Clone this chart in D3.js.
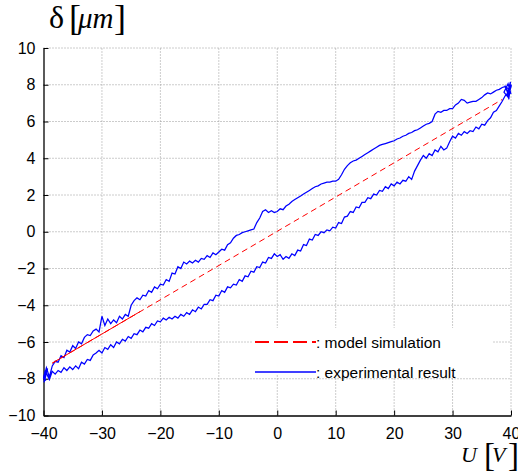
<!DOCTYPE html>
<meta charset="utf-8">
<style>
  body { margin: 0; background: #fff; }
  .tick text { font-family: "Liberation Sans", Arial, sans-serif; font-size: 16px; fill: #000; }
  .serif { font-family: "Liberation Serif", "Times New Roman", serif; }
</style>

<!-- Load d3.js -->
<script src="https://d3js.org/d3.v7.min.js"></script>

<div id="my_dataviz"></div>
<script>

// ticks of both axes
var xTicks = [-40, -30, -20, -10, 0, 10, 20, 30, 40];
var yTicks = [-10, -8, -6, -4, -2, 0, 2, 4, 6, 8, 10];

// experimental result: voltage samples every 0.5 V from -40 to 40
var expU = d3.range(-40, 40.25, 0.5);

// lower branch (voltage going up)
var lowerD = [
  -8.0, -7.7, -8.05, -7.6, -7.75, -7.55, -7.65, -7.4, -7.55, -7.35,
  -7.5, -7.3, -7.45, -7.1, -7.2, -6.95, -7.0, -6.7, -6.6, -6.45,
  -6.6, -6.3, -6.4, -6.15, -6.3, -6.0, -6.1, -5.85, -5.95, -5.7,
  -5.8, -5.55, -5.6, -5.35, -5.45, -5.2, -5.25, -5.0, -5.1, -4.85,
  -4.9, -4.7, -4.8, -4.65, -4.75, -4.6, -4.7, -4.5, -4.6, -4.4,
  -4.5, -4.25, -4.35, -4.1, -4.2, -3.95, -3.95, -3.7, -3.75, -3.45,
  -3.5, -3.2, -3.3, -3.0, -3.05, -2.85, -2.9, -2.6, -2.7, -2.4,
  -2.45, -2.15, -2.2, -1.9, -1.95, -1.65, -1.7, -1.4, -1.45, -1.2,
  -1.35, -1.25, -1.5, -1.35, -1.45, -1.2, -1.3, -1.0, -1.05, -0.7,
  -0.75, -0.4, -0.45, -0.15, -0.2, 0.0, -0.05, 0.1, 0.05, 0.25,
  0.2, 0.5, 0.45, 0.8, 0.85, 1.1, 1.05, 1.35, 1.3, 1.6,
  1.6, 1.85, 1.8, 2.05, 2.0, 2.25, 2.2, 2.45, 2.35, 2.6,
  2.5, 2.7, 2.6, 2.8, 2.75, 3.0, 2.85, 3.3, 3.6, 3.9,
  4.15, 4.0, 4.25, 4.15, 4.45, 4.35, 4.65, 4.45, 4.55, 4.9,
  5.2, 5.1, 5.35, 5.25, 5.45, 5.35, 5.5, 5.45, 5.7, 5.6,
  5.85, 5.8, 6.05, 6.2, 6.5, 6.6, 6.85, 7.1, 7.4, 7.55,
  7.9
];

// upper branch (voltage going down), listed from -40 to 40
var upperD = [
  -8.0, -7.4, -7.9, -7.3, -7.05, -7.1, -6.75, -6.85, -6.45, -6.55,
  -6.2, -6.35, -6.0, -6.1, -5.75, -5.6, -5.65, -5.4, -5.3, -5.45,
  -4.6, -5.1, -4.75, -5.0, -4.8, -4.95, -4.6, -4.75, -4.5, -4.6,
  -4.0, -3.75, -3.6, -3.7, -3.45, -3.5, -3.2, -3.3, -3.0, -3.1,
  -2.85, -2.9, -2.6, -2.7, -2.25, -2.3, -1.9, -2.0, -1.65, -1.75,
  -1.6, -1.7, -1.55, -1.65, -1.45, -1.5, -1.3, -1.4, -1.15, -1.25,
  -1.1, -0.95, -1.0, -0.7, -0.6, -0.35, -0.2, -0.15, -0.05, 0.0,
  0.05, 0.1, 0.15, 0.5, 0.75, 1.1, 1.2, 1.05, 1.15, 1.05,
  1.1, 1.25, 1.2, 1.4, 1.5, 1.65, 1.75, 1.85, 1.95, 2.05,
  2.15, 2.25, 2.35, 2.45, 2.5, 2.6, 2.65, 2.7, 2.7, 2.75,
  2.75, 2.85, 3.1, 3.4, 3.6, 3.75, 3.85, 3.9, 4.0, 4.1,
  4.2, 4.3, 4.4, 4.5, 4.6, 4.7, 4.75, 4.8, 4.85, 4.9,
  4.95, 5.05, 5.1, 5.2, 5.25, 5.35, 5.4, 5.5, 5.55, 5.65,
  5.75, 5.85, 5.9, 6.0, 6.4, 6.55, 6.5, 6.6, 6.6, 6.7,
  6.7, 6.9, 7.0, 7.2, 7.15, 7.0, 7.05, 7.1, 7.1, 7.2,
  7.3, 7.45, 7.55, 7.5, 7.6, 7.7, 7.75, 7.85, 7.9, 7.6,
  8.0
];

// noisy clusters at the two turning points
var startBlobU = [-40, -39.7, -39.9, -39.5, -39.8, -39.3, -39.9, -39.6, -40];
var startBlobD = [-8.0, -7.55, -8.2, -7.7, -7.95, -7.45, -7.8, -8.1, -7.9];
var endBlobU = [40, 39.6, 39.9, 39.3, 39.8, 39.1, 39.7, 38.8, 39.5, 40];
var endBlobD = [8.0, 7.2, 8.15, 7.4, 7.7, 7.9, 7.25, 7.6, 8.05, 7.5];

// model simulation (straight line) and the part that is traced twice
var modelU = [-38.5, 38.5];
var modelD = [-7.15, 7.2];
var modelRetraceU = [-38.5, -23.5];
var modelRetraceD = [-7.15, -4.35];

var legendLabels = [": model simulation", ": experimental result"];

// dimensions
var W = 518, H = 475;
var x0 = 43.5, x1 = 511, yTop = 48, yBot = 415.5;

var svg = d3.select("#my_dataviz")
  .append("svg")
    .attr("width", W)
    .attr("height", H);

var x = d3.scaleLinear().domain([-40, 40]).range([x0, x1]);
var y = d3.scaleLinear().domain([-10, 10]).range([yBot, yTop]);

// dotted grid
svg.append("g")
  .selectAll("line")
  .data(xTicks.slice(1))
  .enter().append("line")
    .attr("x1", function(d) { return x(d); })
    .attr("x2", function(d) { return x(d); })
    .attr("y1", yBot)
    .attr("y2", yTop)
    .attr("stroke", "#999")
    .attr("stroke-width", 1)
    .attr("stroke-dasharray", "1,2");

svg.append("g")
  .selectAll("line")
  .data(yTicks.slice(1))
  .enter().append("line")
    .attr("x1", x0)
    .attr("x2", x1)
    .attr("y1", function(d) { return y(d); })
    .attr("y2", function(d) { return y(d); })
    .attr("stroke", "#999")
    .attr("stroke-width", 1)
    .attr("stroke-dasharray", "1,2");

// axes, ticks pointing inward
function fmt(d) { return d < 0 ? "\u2212" + Math.abs(d) : String(d); }

var gx = svg.append("g")
  .attr("transform", "translate(0," + yBot + ")")
  .call(d3.axisBottom(x).tickValues(xTicks).tickFormat(fmt).tickSizeInner(-5).tickSizeOuter(0).tickPadding(8));
gx.selectAll(".tick text").attr("dy", "0.95em");

var gy = svg.append("g")
  .attr("transform", "translate(" + x0 + ",0)")
  .call(d3.axisLeft(y).tickValues(yTicks).tickFormat(fmt).tickSizeInner(-5).tickSizeOuter(0).tickPadding(8));

svg.selectAll(".domain").attr("stroke", "#000").attr("stroke-width", 1.3);
svg.selectAll(".tick line").attr("stroke", "#000");

// experimental loop
var lower = expU.map(function(u, i) { return [u, lowerD[i]]; });
var upper = expU.map(function(u, i) { return [u, upperD[i]]; }).reverse();

var line = d3.line()
  .x(function(d) { return x(d[0]); })
  .y(function(d) { return y(d[1]); });

function pairs(us, ds) { return us.map(function(u, i) { return [u, ds[i]]; }); }

svg.append("g")
  .selectAll("path")
  .data([lower.concat(upper), pairs(startBlobU, startBlobD), pairs(endBlobU, endBlobD)])
  .enter().append("path")
    .attr("fill", "none")
    .attr("stroke", "#0000ff")
    .attr("stroke-width", 1.25)
    .attr("d", line);

// model line
svg.append("path")
  .datum(pairs(modelU, modelD))
  .attr("fill", "none")
  .attr("stroke", "#ff0000")
  .attr("stroke-width", 1)
  .attr("stroke-dasharray", "6,4")
  .attr("d", line);

svg.append("path")
  .datum(pairs(modelRetraceU, modelRetraceD))
  .attr("fill", "none")
  .attr("stroke", "#ff0000")
  .attr("stroke-width", 1)
  .attr("d", line);

// legend
var legend = svg.append("g").attr("transform", "translate(255,342)");
legend.append("rect")
  .attr("x", -3).attr("y", -14).attr("width", 240).attr("height", 46)
  .attr("fill", "#fff");
legend.append("line")
  .attr("x1", 0).attr("x2", 61).attr("y1", 0).attr("y2", 0)
  .attr("stroke", "#ff0000").attr("stroke-width", 2.2)
  .attr("stroke-dasharray", "14,5");
legend.append("line")
  .attr("x1", 0).attr("x2", 61).attr("y1", 30).attr("y2", 30)
  .attr("stroke", "#0000ff").attr("stroke-width", 1.6);
legend.selectAll("text")
  .data(legendLabels)
  .enter().append("text")
    .attr("x", 61)
    .attr("y", function(d, i) { return i * 30 + 5.5; })
    .style("font-family", "'Liberation Sans', Arial, sans-serif")
    .style("font-size", "15.5px")
    .text(function(d) { return d; });

// axis titles
var yTitle = svg.append("g").attr("class", "serif");
yTitle.append("text").attr("x", 49).attr("y", 28).style("font-size", "32px").text("\u03b4");
yTitle.append("text").attr("x", 69).attr("y", 30).style("font-size", "36px").text("[");
yTitle.append("text").attr("x", 78).attr("y", 28).style("font-size", "29px").style("font-style", "italic").text("\u03bcm");
yTitle.append("text").attr("x", 114).attr("y", 30).style("font-size", "36px").text("]");

var xTitle = svg.append("g").attr("class", "serif");
xTitle.append("text").attr("x", 461).attr("y", 462).style("font-size", "22px").style("font-style", "italic").text("U");
xTitle.append("text").attr("x", 484).attr("y", 466).style("font-size", "33px").text("[");
xTitle.append("text").attr("x", 492).attr("y", 462).style("font-size", "22px").style("font-style", "italic").text("V");
xTitle.append("text").attr("x", 508).attr("y", 466).style("font-size", "33px").text("]");

</script>
